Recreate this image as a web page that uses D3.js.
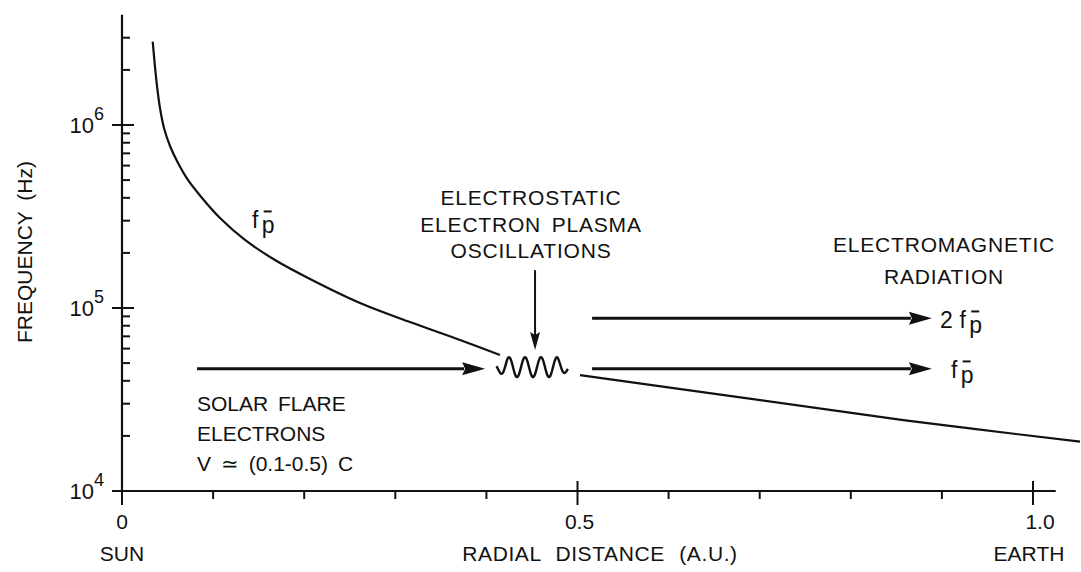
<!DOCTYPE html>
<html><head><meta charset="utf-8">
<script src="https://cdn.jsdelivr.net/npm/d3@7"></script>
<style>
body{margin:0;background:#fff}
svg{display:block;background:#fff}
text{font-family:"Liberation Sans",Arial,sans-serif;fill:#111}
</style>
</head><body>
<svg id="chart" width="1081" height="572"></svg>
<script>
// ---- data ----
const xMajorTicks = [0, 0.5, 1.0];
const xMajorLabels = ["0", "0.5", "1.0"];
const xMinorTicks = [0.1, 0.2, 0.3, 0.4, 0.6, 0.7, 0.8, 0.9];
const yMajorTicks = [1e4, 1e5, 1e6];
const yMajorExponents = ["4", "5", "6"];
const yMinorTicks = [2e4,3e4,4e4,5e4,6e4,7e4,8e4,9e4, 2e5,3e5,4e5,5e5,6e5,7e5,8e5,9e5, 2e6,3e6];
const xAxisEnd = 1.025;
const yAxisTop = 4e6;

// plasma frequency curve (AU, Hz)
const innerDistance = [0.0337, 0.0384, 0.0417, 0.0461, 0.0527, 0.0615, 0.0724, 0.0856, 0.1076, 0.1350, 0.1679, 0.2064, 0.2613, 0.3161, 0.3710, 0.4149];
const innerFreq     = [2.853e6, 1.634e6, 1.239e6, 9.63e5, 7.68e5, 6.20e5, 5.01e5, 4.12e5, 3.10e5, 2.353e5, 1.83e5, 1.441e5, 1.065e5, 8.38e4, 6.69e4, 5.54e4];
const outerDistance = [0.5027, 0.6748, 0.8576, 1.0516];
const outerFreq     = [4.3e4, 3.27e4, 2.44e4, 1.86e4];

// annotation arrows (AU, Hz)
const electronArrow = {from: 0.0824, to: 0.3986, freq: 4.65e4};
const harmonicArrow = {from: 0.516, to: 0.889, freq: 8.8e4};
const fundamentalArrow = {from: 0.516, to: 0.889, freq: 4.65e4};
const oscArrow = {at: 0.4534, fromFreq: 1.61e5, toFreq: 5.9e4};
const wiggle = {from: 0.411, to: 0.4895, freq: 4.75e4};

// ---- scales ----
const svg = d3.select("#chart");
const x = d3.scaleLinear().domain([0, 1]).range([122, 1033]);
const y = d3.scaleLog().domain([1e4, 1e6]).range([491, 125]);
const ink = "#111";

// axes lines
svg.append("line").attr("x1", x(0)).attr("x2", x(0)).attr("y1", y(yAxisTop)).attr("y2", y(1e4))
  .attr("stroke", ink).attr("stroke-width", 2.2);
svg.append("line").attr("x1", x(0) - 10).attr("x2", x(xAxisEnd)).attr("y1", y(1e4)).attr("y2", y(1e4))
  .attr("stroke", ink).attr("stroke-width", 2.2);

// x ticks
svg.selectAll(".xmaj").data(xMajorTicks).enter().append("line")
  .attr("x1", d => x(d)).attr("x2", d => x(d))
  .attr("y1", d => d === 0 ? y(1e4) : y(1e4) - 10).attr("y2", y(1e4) + 14)
  .attr("stroke", ink).attr("stroke-width", 2);
svg.selectAll(".xmin").data(xMinorTicks).enter().append("line")
  .attr("x1", d => x(d)).attr("x2", d => x(d))
  .attr("y1", y(1e4)).attr("y2", y(1e4) + 8)
  .attr("stroke", ink).attr("stroke-width", 2);
svg.selectAll(".xlab").data(xMajorTicks).enter().append("text")
  .attr("x", (d, i) => x(d) + (i === 2 ? 7 : (i === 1 ? 2 : 0)))
  .attr("y", 529).attr("text-anchor", "middle").attr("font-size", 21)
  .text((d, i) => xMajorLabels[i]);

// y ticks
svg.selectAll(".ymaj").data(yMajorTicks).enter().append("line")
  .attr("x1", x(0) - 10).attr("x2", x(0) + 12)
  .attr("y1", d => y(d)).attr("y2", d => y(d))
  .attr("stroke", ink).attr("stroke-width", 2);
svg.selectAll(".ymin").data(yMinorTicks).enter().append("line")
  .attr("x1", x(0)).attr("x2", x(0) + 8)
  .attr("y1", d => y(d)).attr("y2", d => y(d))
  .attr("stroke", ink).attr("stroke-width", 2);
const ylab = svg.selectAll(".ylab").data(yMajorTicks).enter().append("text")
  .attr("x", 104).attr("y", d => y(d) + 8).attr("text-anchor", "end").attr("font-size", 22);
ylab.append("tspan").text("10");
ylab.append("tspan").attr("dy", -13).attr("font-size", 18).text((d, i) => yMajorExponents[i]);

// axis titles
svg.append("text").attr("transform", "translate(32,252) rotate(-90)")
  .attr("text-anchor", "middle").attr("font-size", 21).attr("word-spacing", 5).text("FREQUENCY (Hz)");
svg.append("text").attr("x", x(0)).attr("y", 561).attr("text-anchor", "middle").attr("font-size", 21).text("SUN");
svg.append("text").attr("x", 600).attr("y", 561).attr("text-anchor", "middle").attr("font-size", 21)
  .attr("word-spacing", 8).attr("letter-spacing", 0.6).text("RADIAL DISTANCE (A.U.)");
svg.append("text").attr("x", 1029).attr("y", 561).attr("text-anchor", "middle").attr("font-size", 21).text("EARTH");

// curve
const line = d3.line().x(d => x(d[0])).y(d => y(d[1])).curve(d3.curveCatmullRom.alpha(0.5));
svg.append("path").attr("d", line(innerDistance.map((d, i) => [d, innerFreq[i]])))
  .attr("fill", "none").attr("stroke", ink).attr("stroke-width", 2.2);
svg.append("path").attr("d", line(outerDistance.map((d, i) => [d, outerFreq[i]])))
  .attr("fill", "none").attr("stroke", ink).attr("stroke-width", 2.2);

// arrows
function hArrow(a, len, hw) {
  const x1 = x(a.from), x2 = x(a.to), yy = y(a.freq);
  svg.append("line").attr("x1", x1).attr("x2", x2 - len + 2).attr("y1", yy).attr("y2", yy)
    .attr("stroke", ink).attr("stroke-width", 3);
  svg.append("path").attr("d", `M${x2},${yy} L${x2 - len},${yy - hw} L${x2 - len + 3},${yy} L${x2 - len},${yy + hw} Z`)
    .attr("fill", ink);
}
hArrow(electronArrow, 23, 6.5);
hArrow(harmonicArrow, 23, 6.5);
hArrow(fundamentalArrow, 23, 6.5);
{
  const xx = x(oscArrow.at), y1 = y(oscArrow.fromFreq), y2 = y(oscArrow.toFreq);
  svg.append("line").attr("x1", xx).attr("x2", xx).attr("y1", y1).attr("y2", y2 - 14)
    .attr("stroke", ink).attr("stroke-width", 2);
  svg.append("path").attr("d", `M${xx},${y2} L${xx - 5},${y2 - 18} L${xx},${y2 - 15} L${xx + 5},${y2 - 18} Z`).attr("fill", ink);
}

// oscillation squiggle (decorative glyph)
{
  const x0 = x(wiggle.from), x1 = x(wiggle.to), c = y(wiggle.freq);
  const pts = d3.range(0, 1.0001, 0.005).map(t => {
    const px = x0 + t * (x1 - x0);
    const amp = 10 * Math.min(1, Math.min(t, 1 - t) / 0.15 * 0.6 + 0.4);
    return [px, c - amp * Math.sin(2 * Math.PI * (px - 505) / 16)];
  });
  svg.append("path").attr("d", d3.line().curve(d3.curveBasis)(pts))
    .attr("fill", "none").attr("stroke", ink).attr("stroke-width", 2.4);
}

// f_p label helper
function fpLabel(px, py, size, prefix) {
  let cx = px;
  if (prefix) {
    svg.append("text").attr("x", cx).attr("y", py).attr("font-size", size).text(prefix);
    cx += size * 0.85;
  }
  svg.append("text").attr("x", cx).attr("y", py).attr("font-size", size).text("f");
  const pxp = cx + size * 0.42;
  svg.append("text").attr("x", pxp).attr("y", py + 5).attr("font-size", size).text("p");
  svg.append("line").attr("x1", pxp + 2).attr("x2", pxp + 10).attr("y1", py - size * 0.72).attr("y2", py - size * 0.72)
    .attr("stroke", ink).attr("stroke-width", 2);
}
fpLabel(252, 228, 23);
fpLabel(940, 328, 23, "2");
fpLabel(951, 378, 23);

// text annotations
function block(lines, xx, yy, dy, anchor, ls, ws) {
  lines.forEach((t, i) => svg.append("text").attr("x", xx).attr("y", yy + i * dy)
    .attr("text-anchor", anchor).attr("font-size", 21).attr("letter-spacing", ls).attr("word-spacing", ws).text(t));
}
block(["ELECTROSTATIC", "ELECTRON PLASMA", "OSCILLATIONS"], 531, 205, 26.5, "middle", 0.8, 4);
block(["ELECTROMAGNETIC", "RADIATION"], 944, 252, 32, "middle", 0.8, 4);
block(["SOLAR FLARE", "ELECTRONS", "V \u2243 (0.1-0.5) C"], 197, 411, 30, "start", 0, 4);
</script>
</body></html>
